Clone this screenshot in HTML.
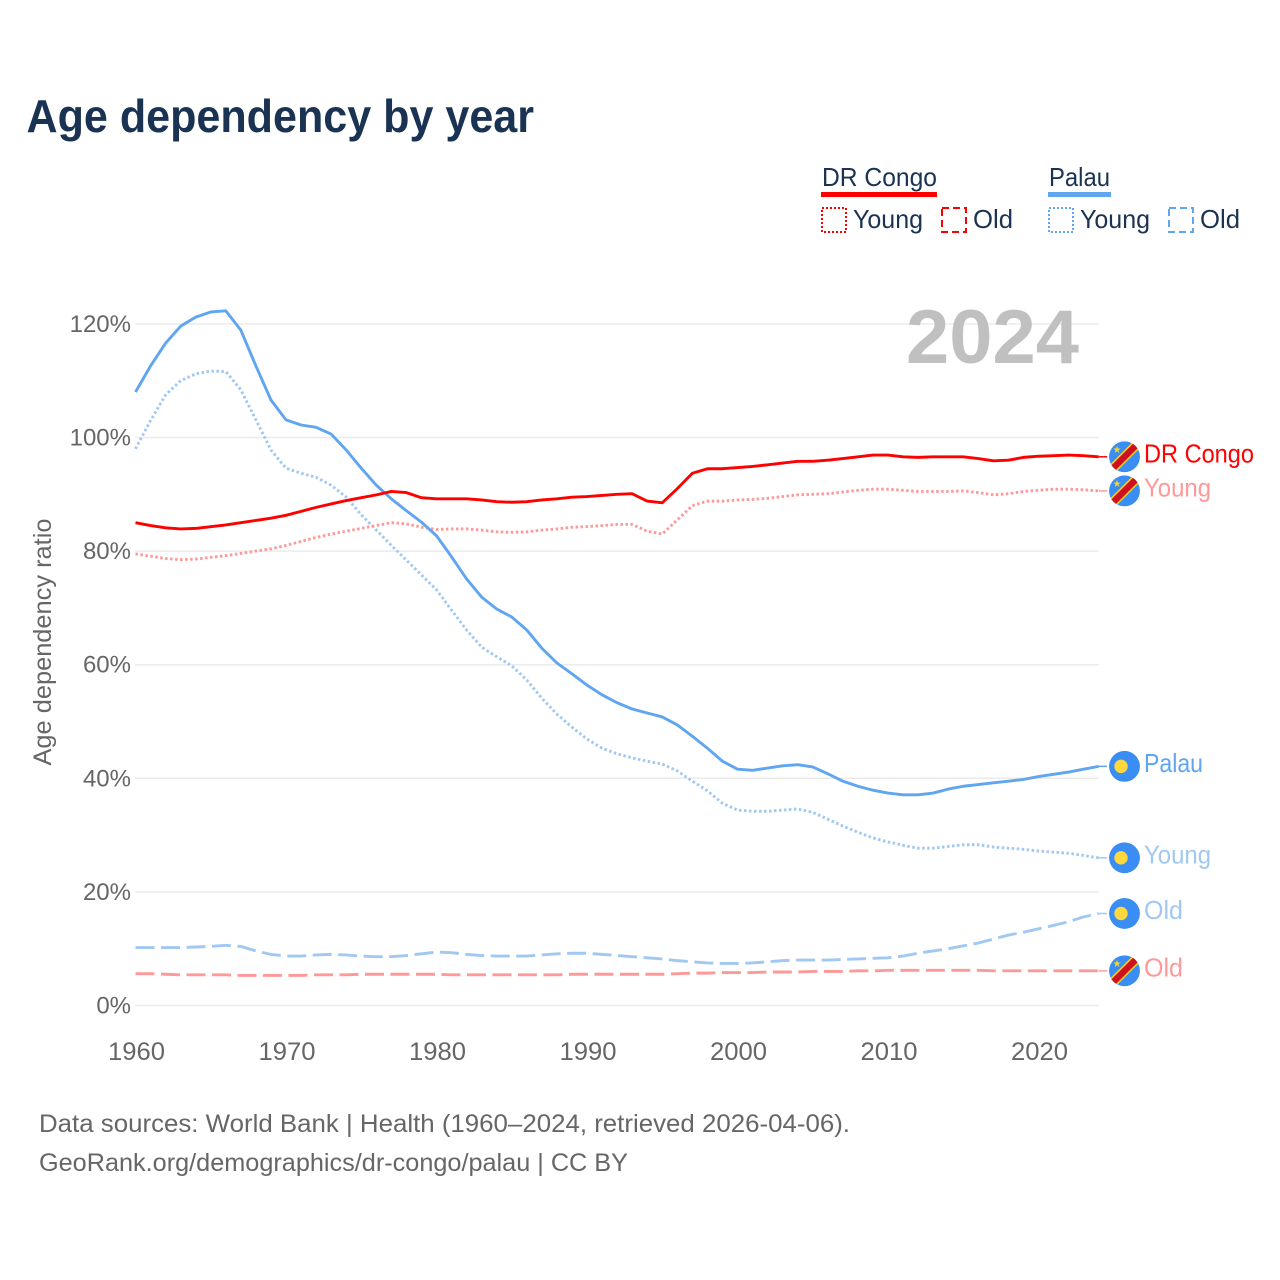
<!DOCTYPE html>
<html lang="en">
<head>
<meta charset="utf-8">
<title>Age dependency by year</title>
<style>
html,body{margin:0;padding:0;background:#fff;}
svg{display:block;font-family:"Liberation Sans",sans-serif;}
</style>
</head>
<body>
<svg id="chart" xmlns="http://www.w3.org/2000/svg" width="1280" height="1280" viewBox="0 0 1280 1280">
<defs>
<clipPath id="flag-clip"><circle cx="0" cy="0" r="15.5"/></clipPath>
</defs>
<text x="26.5" y="132" font-size="46" font-weight="700" fill="#1a3352" textLength="507.5" lengthAdjust="spacingAndGlyphs">Age dependency by year</text>

<g fill="#1a3352" font-size="26">
<text x="822" y="186" textLength="115" lengthAdjust="spacingAndGlyphs">DR Congo</text>
<rect x="821" y="192" width="116" height="5" fill="#ff0000"/>
<rect x="822" y="208" width="24" height="24" fill="none" stroke="#ff0000" stroke-width="2" stroke-dasharray="2 2"/>
<text x="853" y="228" textLength="70" lengthAdjust="spacingAndGlyphs">Young</text>
<rect x="942" y="208" width="24" height="24" fill="none" stroke="#ff0000" stroke-width="2" stroke-dasharray="7 4"/>
<text x="973" y="228" textLength="40" lengthAdjust="spacingAndGlyphs">Old</text>
<text x="1049" y="186" textLength="61" lengthAdjust="spacingAndGlyphs">Palau</text>
<rect x="1048" y="192" width="63" height="5" fill="#60a5f0"/>
<rect x="1049" y="208" width="24" height="24" fill="none" stroke="#60a5f0" stroke-width="2" stroke-dasharray="2 2"/>
<text x="1080" y="228" textLength="70" lengthAdjust="spacingAndGlyphs">Young</text>
<rect x="1169" y="208" width="24" height="24" fill="none" stroke="#60a5f0" stroke-width="2" stroke-dasharray="7 4"/>
<text x="1200" y="228" textLength="40" lengthAdjust="spacingAndGlyphs">Old</text>
</g>

<g id="grid"></g>
<text x="906" y="363" font-size="76" font-weight="700" fill="#c0c0c0" textLength="173" lengthAdjust="spacingAndGlyphs">2024</text>
<g id="yticks"></g>
<g id="xticks"></g>
<text transform="translate(51,642) rotate(-90)" text-anchor="middle" font-size="25" fill="#666666" textLength="247" lengthAdjust="spacingAndGlyphs">Age dependency ratio</text>
<g id="series"></g>
<g id="endlabels"></g>

<g font-size="25" fill="#666666">
<text x="39" y="1132" textLength="811" lengthAdjust="spacingAndGlyphs">Data sources: World Bank | Health (1960–2024, retrieved 2026-04-06).</text>
<text x="39" y="1171" textLength="589" lengthAdjust="spacingAndGlyphs">GeoRank.org/demographics/dr-congo/palau | CC BY</text>
</g>
</svg>
<script>
const startYear = 1960;
const xTickYears = [1960, 1970, 1980, 1990, 2000, 2010, 2020];
const yTickValues = [0, 20, 40, 60, 80, 100, 120];
const palauTotal = [
  108.0,112.6,116.6,119.6,121.2,122.1,122.3,118.9,112.6,106.6,
  103.1,102.2,101.8,100.6,97.8,94.6,91.6,89.2,87.1,85.1,
  82.7,79.0,75.1,71.9,69.8,68.4,66.1,62.9,60.3,58.4,
  56.4,54.7,53.3,52.2,51.5,50.8,49.4,47.4,45.3,43.0,
  41.6,41.4,41.8,42.2,42.4,42.0,40.8,39.5,38.6,37.9,
  37.4,37.1,37.1,37.4,38.1,38.6,38.9,39.2,39.5,39.8,
  40.3,40.7,41.1,41.6,42.1];
const palauYoung = [
  98.0,103.0,107.5,110.0,111.2,111.7,111.6,108.4,103.1,97.8,
  94.6,93.7,93.0,91.6,89.5,86.4,83.7,81.0,78.4,75.8,
  73.2,69.6,66.1,63.1,61.4,59.8,57.3,54.1,51.3,49.0,
  46.9,45.3,44.3,43.6,43.0,42.5,41.3,39.5,37.8,35.6,
  34.4,34.2,34.2,34.4,34.6,34.0,32.8,31.6,30.5,29.5,
  28.8,28.2,27.7,27.7,28.0,28.3,28.3,27.9,27.7,27.5,
  27.2,27.0,26.8,26.4,26.0];
const palauOld = [
  10.2,10.2,10.2,10.2,10.3,10.4,10.6,10.4,9.6,9.0,
  8.7,8.7,8.9,9.0,8.9,8.7,8.6,8.6,8.8,9.1,
  9.4,9.3,9.0,8.8,8.7,8.7,8.7,8.9,9.1,9.2,
  9.2,9.0,8.8,8.6,8.4,8.2,7.9,7.7,7.5,7.4,
  7.4,7.5,7.7,7.9,8.0,8.0,8.0,8.1,8.2,8.3,
  8.4,8.7,9.2,9.6,10.0,10.5,11.0,11.7,12.4,12.9,
  13.5,14.1,14.75,15.6,16.2];
const congoTotal = [
  85.0,84.5,84.1,83.9,84.0,84.3,84.6,85.0,85.4,85.8,
  86.3,87.0,87.7,88.3,88.9,89.4,89.9,90.5,90.3,89.4,
  89.2,89.2,89.2,89.0,88.7,88.6,88.7,89.0,89.2,89.5,
  89.6,89.8,90.0,90.1,88.8,88.5,91.0,93.7,94.5,94.5,
  94.7,94.9,95.2,95.5,95.8,95.8,96.0,96.3,96.6,96.9,
  96.9,96.6,96.5,96.6,96.6,96.6,96.3,95.9,96.0,96.5,
  96.7,96.8,96.9,96.8,96.6];
const congoYoung = [
  79.5,79.1,78.7,78.5,78.6,78.9,79.2,79.6,80.0,80.4,
  81.0,81.7,82.4,83.0,83.5,84.0,84.5,85.0,84.8,84.2,
  83.8,83.9,83.9,83.7,83.4,83.3,83.4,83.7,83.9,84.2,
  84.3,84.5,84.7,84.7,83.5,83.0,85.5,88.0,88.8,88.8,
  89.0,89.1,89.3,89.6,89.9,90.0,90.1,90.4,90.7,90.9,
  90.9,90.7,90.5,90.5,90.5,90.6,90.3,89.9,90.1,90.5,
  90.7,90.9,90.9,90.8,90.6];
const congoOld = [
  5.6,5.6,5.5,5.4,5.4,5.4,5.4,5.3,5.3,5.3,
  5.3,5.3,5.4,5.4,5.4,5.5,5.5,5.5,5.5,5.5,
  5.5,5.4,5.4,5.4,5.4,5.4,5.4,5.4,5.4,5.5,
  5.5,5.5,5.5,5.5,5.5,5.5,5.6,5.7,5.7,5.8,
  5.8,5.8,5.9,5.9,5.9,6.0,6.0,6.0,6.1,6.1,
  6.2,6.2,6.2,6.2,6.2,6.2,6.2,6.1,6.1,6.1,
  6.1,6.1,6.1,6.1,6.1];

const NS = 'http://www.w3.org/2000/svg';
const xScale = year => 135.5 + (year - startYear) * 15.05;
const yScale = value => 1005.5 - value * 5.68;

function make(parent, tag, attrs, text) {
  const el = document.createElementNS(NS, tag);
  for (const k in attrs) el.setAttribute(k, attrs[k]);
  if (text !== undefined) el.textContent = text;
  parent.appendChild(el);
  return el;
}

const gridG = document.getElementById('grid');
const yG = document.getElementById('yticks');
const xG = document.getElementById('xticks');
yTickValues.forEach(v => {
  const line = make(gridG, 'line', {x1: 135, x2: 1099, y1: yScale(v), y2: yScale(v), stroke: '#ebebeb', 'stroke-width': 1.5});
  
  
  const label = make(yG, 'text', {x: 131, y: yScale(v) + 8, 'text-anchor': 'end', 'font-size': 24, fill: '#666666'}, v + '%');
  
  
});
xTickYears.forEach(yr => {
  const label = make(xG, 'text', {x: xScale(yr) + 1, y: 1060, 'text-anchor': 'middle', 'font-size': 25, fill: '#666666', textLength: 57, lengthAdjust: 'spacingAndGlyphs'}, String(yr));
  
  
});

const seriesG = document.getElementById('series');
const labelG = document.getElementById('endlabels');

function drawFlag(kind, cy) {
  const g = make(labelG, 'g', {transform: 'translate(1124.5,' + cy + ')', 'clip-path': 'url(#flag-clip)'});
  
  
  make(g, 'circle', {cx: 0, cy: 0, r: 15.5, fill: '#3a8df2'});
  if (kind === 'palau') {
    make(g, 'circle', {cx: -3.5, cy: 0, r: 6.7, fill: '#ffd83d'});
  } else {
    make(g, 'line', {x1: -18, y1: 18, x2: 18, y2: -18, stroke: '#f7d618', 'stroke-width': 9.5});
    make(g, 'line', {x1: -18, y1: 18, x2: 18, y2: -18, stroke: '#ce1021', 'stroke-width': 6.5});
    make(g, 'polygon', {points: '-7.5,-11 -6.5,-8.3 -3.8,-8.3 -6,-6.6 -5.2,-3.9 -7.5,-5.5 -9.8,-3.9 -9,-6.6 -11.2,-8.3 -8.5,-8.3', fill: '#f7d618'});
  }
}

function drawSeries(name, values, color, dash, labelText, labelColor, kind, labelWidth) {
  const d = values.map((v, i) => (i ? 'L' : 'M') + xScale(startYear + i).toFixed(2) + ' ' + yScale(v).toFixed(2)).join(' ');
  const path = make(seriesG, 'path', {d: d, fill: 'none', stroke: color, 'stroke-width': 2.9, 'stroke-linejoin': 'round', 'stroke-dasharray': dash});
  
  
  const lastY = yScale(values[values.length - 1]);
  const lead = make(labelG, 'line', {x1: xScale(startYear + values.length - 1), y1: lastY, x2: 1107, y2: lastY, stroke: color, 'stroke-width': 1.5});
  
  
  drawFlag(kind, lastY);
  const label = make(labelG, 'text', {x: 1144, y: lastY + 5.5, 'font-size': 26, fill: labelColor, textLength: labelWidth, lengthAdjust: 'spacingAndGlyphs'}, labelText);
  
  
}

const dotted = '2.5 2.5';
const dashed = '19 6.5';
drawSeries('palau-old', palauOld, '#a0c8f3', dashed, 'Old', '#a0c8f3', 'palau', 39);
drawSeries('dr-congo-old', congoOld, '#ff9999', dashed, 'Old', '#ff9999', 'congo', 39);
drawSeries('palau-young', palauYoung, '#a0c8f3', dotted, 'Young', '#a0c8f3', 'palau', 67);
drawSeries('dr-congo-young', congoYoung, '#ff9999', dotted, 'Young', '#ff9999', 'congo', 67);
drawSeries('palau-total', palauTotal, '#60a5f0', 'none', 'Palau', '#60a5f0', 'palau', 59);
drawSeries('dr-congo-total', congoTotal, '#ff0000', 'none', 'DR Congo', '#ff0000', 'congo', 110);
</script>
</body>
</html>
